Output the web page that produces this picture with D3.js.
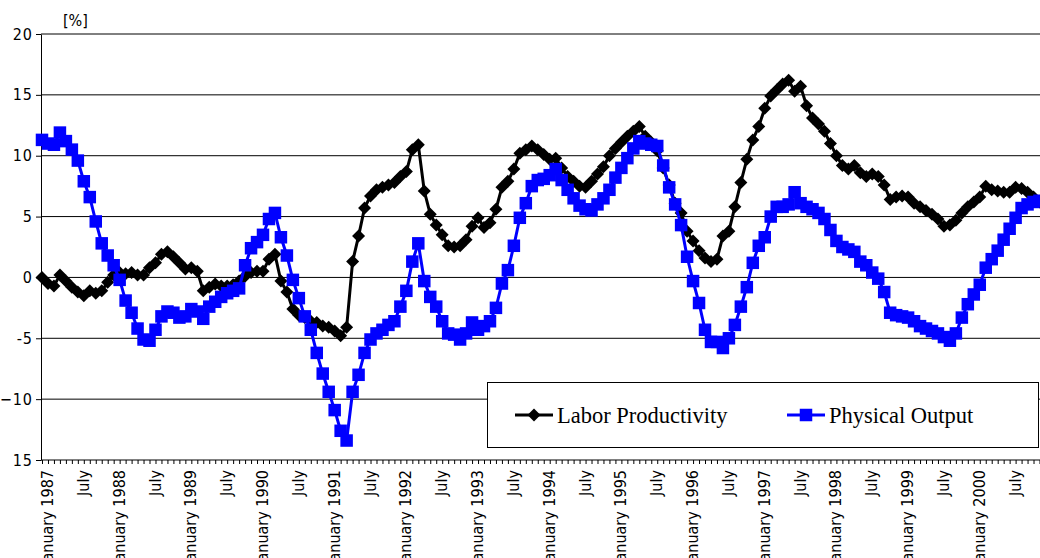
<!DOCTYPE html>
<html>
<head>
<meta charset="utf-8">
<script src="https://cdn.jsdelivr.net/npm/d3@7"></script>
<style>
  body { margin: 0; background: #fff; }
  .tick text { font-family: "Liberation Sans Narrow", "DejaVu Sans Condensed", "Liberation Sans", sans-serif; }
</style>
</head>
<body>
<svg width="1040" height="558"></svg>
<script>
// monthly growth rates, January 1987 .. December 2000
const months = d3.timeMonth.range(new Date(1987, 0, 1), new Date(2001, 0, 1));

const labor = [
  0.0, -0.5, -0.7, 0.2, -0.3, -0.8, -1.2, -1.5, -1.1, -1.3, -1.1, -0.4,
  0.2, 0.4, 0.3, 0.4, 0.2, 0.2, 0.8, 1.2, 1.9, 2.1, 1.7, 1.2,
  0.7, 0.8, 0.5, -1.1, -0.8, -0.55, -0.7, -0.7, -0.6, -0.3, 0.1, 0.4,
  0.5, 0.5, 1.5, 1.9, -0.3, -1.2, -2.6, -3.1, -3.3, -3.6, -3.7, -4.0,
  -4.1, -4.4, -4.8, -4.1, 1.3, 3.4, 5.7, 6.7, 7.2, 7.4, 7.6, 7.8,
  8.3, 8.7, 10.5, 10.9, 7.1, 5.2, 4.3, 3.5, 2.6, 2.5, 2.6, 3.1,
  4.2, 4.9, 4.1, 4.5, 5.6, 7.4, 7.9, 8.9, 10.2, 10.5, 10.8, 10.5,
  10.1, 9.7, 9.8, 9.0, 8.3, 7.9, 7.5, 7.4, 7.9, 8.5, 9.1, 10.0,
  10.6, 11.1, 11.6, 12.0, 12.4, 11.6, 11.1, 10.4, 9.0, 7.6, 6.1, 5.3,
  3.8, 3.0, 2.2, 1.6, 1.3, 1.5, 3.4, 3.8, 5.8, 7.8, 9.7, 11.3,
  12.4, 13.9, 14.9, 15.4, 15.9, 16.2, 15.3, 15.7, 14.1, 13.1, 12.6, 12.0,
  11.0, 10.0, 9.2, 8.9, 9.2, 8.6, 8.3, 8.5, 8.3, 7.6, 6.4, 6.6,
  6.7, 6.6, 6.1, 5.8, 5.5, 5.2, 4.8, 4.2, 4.3, 4.7, 5.3, 5.8,
  6.2, 6.6, 7.5, 7.2, 7.1, 7.0, 7.0, 7.4, 7.3, 7.0, 6.6, 6.2
];

const output = [
  11.3, 11.0, 10.9, 11.9, 11.2, 10.5, 9.6, 7.9, 6.6, 4.6, 2.8, 1.8,
  1.0, -0.2, -1.9, -2.9, -4.2, -5.1, -5.2, -4.3, -3.2, -2.8, -2.9, -3.3,
  -3.2, -2.6, -2.8, -3.4, -2.4, -2.0, -1.6, -1.3, -1.1, -0.9, 1.0, 2.4,
  2.9, 3.5, 4.8, 5.3, 3.3, 1.8, -0.2, -1.7, -3.2, -4.3, -6.2, -7.9,
  -9.4, -10.9, -12.6, -13.4, -9.4, -8.0, -6.2, -5.1, -4.6, -4.3, -3.9, -3.6,
  -2.4, -1.1, 1.3, 2.8, -0.3, -1.6, -2.4, -3.6, -4.6, -4.7, -5.1, -4.6,
  -3.7, -4.3, -4.0, -3.6, -2.5, -0.5, 0.6, 2.6, 4.9, 6.1, 7.5, 8.0,
  8.1, 8.4, 8.9, 8.0, 7.2, 6.5, 5.9, 5.6, 5.5, 6.0, 6.5, 7.2,
  8.2, 9.0, 9.8, 10.6, 11.2, 11.0, 10.9, 10.8, 9.2, 7.4, 6.0, 4.3,
  1.7, -0.3, -2.1, -4.3, -5.3, -5.3, -5.8, -5.0, -3.9, -2.4, -0.8, 1.2,
  2.6, 3.3, 5.0, 5.8, 5.8, 6.0, 7.0, 6.1, 5.8, 5.6, 5.3, 4.8,
  3.9, 3.0, 2.5, 2.3, 2.1, 1.3, 1.0, 0.4, -0.1, -1.2, -2.9, -3.1,
  -3.2, -3.3, -3.6, -4.0, -4.2, -4.4, -4.6, -4.9, -5.2, -4.6, -3.3, -2.2,
  -1.4, -0.6, 0.8, 1.5, 2.2, 3.1, 4.0, 4.9, 5.7, 6.0, 6.2, 6.3
];

const yTicks = [20, 15, 10, 5, 0, -5, -10, -15];
const yLabels = ["20", "15", "10", "5", "0", "-5", "\u221210", "15"];
const seriesNames = ["Labor Productivity", "Physical Output"];

const svg = d3.select("svg");
const width = +svg.attr("width");

const x = d3.scaleLinear().domain([0, months.length - 1]).range([42, 1039.5]);
const y = d3.scaleLinear().domain([-15, 20]).range([460, 34]);

// gridlines
svg.append("g")
    .selectAll("line")
    .data(yTicks.filter(d => d > -15))
    .join("line")
    .attr("x1", 41).attr("x2", width)
    .attr("y1", d => y(d)).attr("y2", d => y(d))
    .attr("stroke", "#000")
    .attr("stroke-width", 1);

// y axis
const yAxis = svg.append("g")
    .attr("transform", "translate(41,0)")
    .call(d3.axisLeft(y).tickValues(yTicks).tickSize(5).tickSizeOuter(0)
        .tickFormat((d, i) => yLabels[i]));
yAxis.select(".domain").attr("stroke", "#000");
yAxis.selectAll(".tick line").attr("stroke", "#000");
yAxis.selectAll(".tick text")
    .attr("x", -8)
    .attr("fill", "#000")
    .style("font-size", "16px")
    .style("letter-spacing", "1px");

// x axis
const xAxis = svg.append("g")
    .attr("transform", "translate(0,460)")
    .call(d3.axisBottom(x).tickValues(d3.range(months.length)).tickSize(4).tickSizeOuter(0)
        .tickFormat(i => {
            const m = months[i];
            if (m.getMonth() === 0) return "January " + m.getFullYear();
            if (m.getMonth() === 6) return "July";
            return "";
        }));
xAxis.select(".domain").attr("d", `M41,0H${width}`).attr("stroke", "#000");
xAxis.selectAll(".tick line").attr("stroke", "#000");
xAxis.selectAll(".tick text")
    .attr("transform", "rotate(-90)")
    .attr("text-anchor", "end")
    .attr("x", -10)
    .attr("y", 10.5)
    .attr("dy", 0)
    .attr("fill", "#000")
    .style("font-size", "16px");

svg.append("text")
    .attr("x", 63).attr("y", 26)
    .style("font-family", '"Liberation Sans Narrow", "DejaVu Sans Condensed", sans-serif')
    .style("font-size", "16px")
    .text("[%]");

// series
const line = d3.line().x((d, i) => x(i)).y(d => y(d));
const diamond = "M0,-6.5L6.5,0L0,6.5L-6.5,0Z";
const sq = 12.5;

svg.append("path")
    .datum(labor)
    .attr("d", line)
    .attr("fill", "none")
    .attr("stroke", "#000")
    .attr("stroke-width", 3);
svg.append("g")
    .selectAll("path")
    .data(labor)
    .join("path")
    .attr("d", diamond)
    .attr("transform", (d, i) => `translate(${x(i)},${y(d)})`)
    .attr("fill", "#000");

svg.append("path")
    .datum(output)
    .attr("d", line)
    .attr("fill", "none")
    .attr("stroke", "#0000ff")
    .attr("stroke-width", 3);
svg.append("g")
    .selectAll("rect")
    .data(output)
    .join("rect")
    .attr("x", (d, i) => x(i) - sq / 2)
    .attr("y", d => y(d) - sq / 2)
    .attr("width", sq).attr("height", sq)
    .attr("fill", "#0000ff");

// legend
const legend = svg.append("g");
legend.append("rect")
    .attr("x", 487.5).attr("y", 382.5)
    .attr("width", 551).attr("height", 65)
    .attr("fill", "#fff").attr("stroke", "#000");

const items = legend.selectAll(".item")
    .data(seriesNames)
    .join("g")
    .attr("class", "item")
    .attr("transform", (d, i) => `translate(${i === 0 ? 515 : 787},415)`);
items.append("line")
    .attr("x1", 0).attr("x2", 38)
    .attr("stroke", (d, i) => i === 0 ? "#000" : "#0000ff")
    .attr("stroke-width", 3);
items.filter((d, i) => i === 0).append("path")
    .attr("d", diamond).attr("transform", "translate(19,0)").attr("fill", "#000");
items.filter((d, i) => i === 1).append("rect")
    .attr("x", 19 - sq / 2).attr("y", -sq / 2).attr("width", sq).attr("height", sq).attr("fill", "#0000ff");
items.append("text")
    .attr("x", 42).attr("y", 7.5)
    .style("font-family", '"Liberation Serif", "Times New Roman", serif')
    .style("font-size", "22.5px")
    .text(d => d);
</script>
</body>
</html>
